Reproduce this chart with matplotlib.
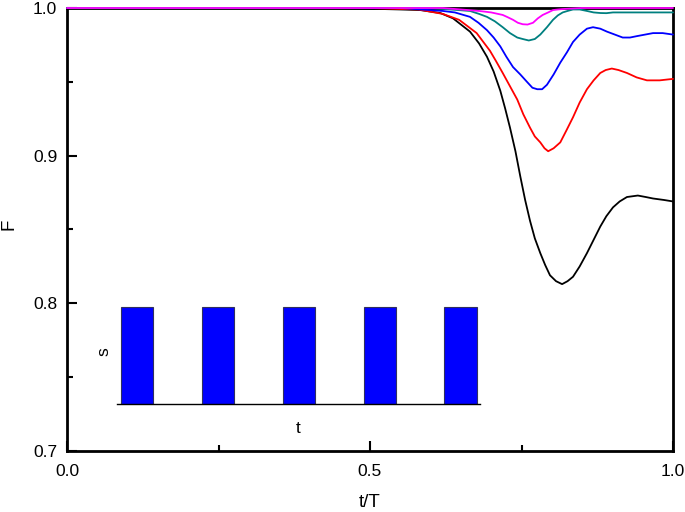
import matplotlib
matplotlib.use("Agg")
import matplotlib.pyplot as plt
from matplotlib.ticker import MultipleLocator

plt.rcParams['font.family'] = ['Liberation Sans', 'DejaVu Sans']

# --- data ---
t_black = [0, 0.40, 0.50, 0.55, 0.583, 0.616, 0.637, 0.665, 0.68, 0.693, 0.704, 0.715, 0.723,
           0.731, 0.740, 0.748, 0.756, 0.764, 0.772, 0.781, 0.789, 0.797, 0.807, 0.817, 0.826,
           0.835, 0.846, 0.858, 0.869, 0.880, 0.890, 0.901, 0.912, 0.924, 0.942, 0.955, 0.967,
           0.985, 1.0]
F_black = [1.0, 1.0, 0.9995, 0.999, 0.9986, 0.9966, 0.993, 0.984, 0.976, 0.967, 0.957, 0.944,
           0.932, 0.919, 0.903, 0.886, 0.870, 0.856, 0.844, 0.834, 0.826, 0.819, 0.815, 0.813,
           0.815, 0.818, 0.825, 0.834, 0.843, 0.852, 0.859, 0.865, 0.869, 0.872, 0.873, 0.872,
           0.871, 0.870, 0.869]

t_red = [0, 0.5, 0.58, 0.62, 0.647, 0.66, 0.676, 0.687, 0.698, 0.708, 0.719, 0.731, 0.743,
         0.753, 0.764, 0.772, 0.781, 0.788, 0.794, 0.803, 0.814, 0.824, 0.835, 0.846, 0.858,
         0.869, 0.880, 0.889, 0.899, 0.910, 0.924, 0.940, 0.957, 0.978, 1.0]
F_red = [1.0, 1.0, 0.999, 0.996, 0.992, 0.988, 0.983, 0.977, 0.971, 0.964, 0.956, 0.947, 0.938,
         0.928, 0.919, 0.913, 0.909, 0.905, 0.903, 0.905, 0.909, 0.917, 0.926, 0.936, 0.945,
         0.951, 0.956, 0.958, 0.959, 0.958, 0.956, 0.953, 0.951, 0.951, 0.952]

t_blue = [0, 0.55, 0.62, 0.64, 0.665, 0.679, 0.693, 0.704, 0.715, 0.725, 0.736, 0.748, 0.759,
          0.768, 0.776, 0.784, 0.792, 0.803, 0.814, 0.825, 0.835, 0.846, 0.858, 0.868, 0.880,
          0.891, 0.904, 0.917, 0.929, 0.941, 0.954, 0.967, 0.983, 1.0]
F_blue = [1.0, 1.0, 0.998, 0.997, 0.994, 0.990, 0.985, 0.980, 0.974, 0.967, 0.960, 0.955, 0.950,
          0.946, 0.945, 0.945, 0.948, 0.955, 0.963, 0.970, 0.977, 0.982, 0.986, 0.987, 0.986,
          0.984, 0.982, 0.980, 0.980, 0.981, 0.982, 0.983, 0.983, 0.982]

t_teal = [0, 0.6, 0.665, 0.68, 0.693, 0.706, 0.719, 0.731, 0.743, 0.752, 0.762, 0.772, 0.781,
          0.792, 0.802, 0.81, 0.818, 0.826, 0.835, 0.846, 0.858, 0.869, 0.880, 0.890, 0.901,
          0.915, 0.934, 1.0]
F_teal = [1.0, 1.0, 0.998, 0.996, 0.994, 0.991, 0.987, 0.983, 0.980, 0.979, 0.978, 0.979, 0.982,
          0.987, 0.992, 0.995, 0.997, 0.998, 0.999, 0.999, 0.998, 0.997, 0.9966, 0.9965, 0.997,
          0.997, 0.997, 0.997]

t_mag = [0, 0.62, 0.68, 0.70, 0.719, 0.727, 0.736, 0.744, 0.752, 0.76, 0.769, 0.777, 0.785,
         0.794, 0.802, 0.81, 0.818, 0.85, 1.0]
F_mag = [1.0, 1.0, 0.998, 0.997, 0.9953, 0.9938, 0.992, 0.990, 0.989, 0.9888, 0.990, 0.993,
         0.9953, 0.997, 0.9986, 0.999, 0.9993, 1.0, 1.0]

# inset pulse train
pulse_pos = [1, 2, 3, 4, 5]
pulse_h = [1, 1, 1, 1, 1]

x_ticks = [0.0, 0.5, 1.0]
x_ticklabels = ['0.0', '0.5', '1.0']
y_ticks = [0.7, 0.8, 0.9, 1.0]
y_ticklabels = ['0.7', '0.8', '0.9', '1.0']

fig = plt.figure(figsize=(6.85, 5.12), dpi=100)
ax = fig.add_axes([67/685, 1-451/512, 606/685, 443/512])

series = [(t_black, F_black, 'black'),
          (t_red, F_red, '#ff0000'),
          (t_blue, F_blue, '#0000ff'),
          (t_teal, F_teal, '#008080'),
          (t_mag, F_mag, '#ff00ff')]
for t, F, c in series:
    ax.plot(t, F, color=c, lw=1.3, zorder=3, clip_on=False,
            solid_joinstyle='round', solid_capstyle='round')

ax.set_xlim(0, 1)
ax.set_ylim(0.7, 1.0)
ax.set_xticks(x_ticks)
ax.set_xticklabels(x_ticklabels)
ax.set_yticks(y_ticks)
ax.set_yticklabels(y_ticklabels)
ax.xaxis.set_minor_locator(MultipleLocator(0.25))
ax.yaxis.set_minor_locator(MultipleLocator(0.05))
ax.tick_params(which='major', direction='in', length=7, width=1.5, labelsize=12.5,
               top=False, right=False, pad=7)
ax.tick_params(axis='x', which='major', pad=9.5)
ax.tick_params(which='minor', direction='in', length=4, width=1.5, top=False, right=False)
for s in ax.spines.values():
    s.set_linewidth(2.0)
ax.set_xlabel('t/T', fontsize=13.5, labelpad=11)
fig.text(9/685, 1-224/512, 'F', rotation=90, ha='center', va='center', fontsize=13.5)

# inset
ins = fig.add_axes([117/685, 1-404/512, 363/685, 104/512])
ins.bar(pulse_pos, pulse_h, width=0.4, color='#0000ff', edgecolor='#303060', linewidth=0.8)
ins.set_xlim(0.75, 5.24)
ins.set_ylim(0, 1.072)
ins.set_xticks([])
ins.set_yticks([])
for k in ['top', 'right', 'left']:
    ins.spines[k].set_visible(False)
ins.spines['bottom'].set_linewidth(1.0)
ins.patch.set_alpha(0)
ins.set_xlabel('t', fontsize=12.5, labelpad=12)
ins.set_ylabel('s', fontsize=12.5, labelpad=4)

fig.savefig('out.png', dpi=100)
